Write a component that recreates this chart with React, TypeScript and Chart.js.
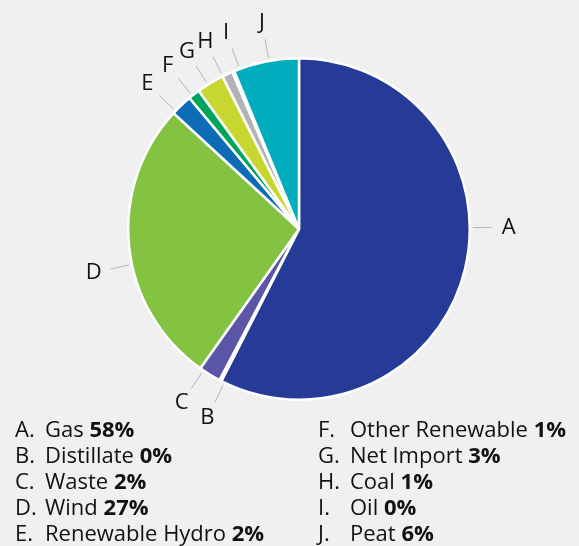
import React, { useEffect, useRef } from "react";
import { Chart, registerables } from "chart.js";

Chart.register(...registerables);

const letters = ["A", "B", "C", "D", "E", "F", "G", "H", "I", "J"];
const names = ["Gas", "Distillate", "Waste", "Wind", "Renewable Hydro", "Other Renewable", "Net Import", "Coal", "Oil", "Peat"];
const values = [57.6, 0.2, 2.1, 27.1, 2.05, 1.1, 2.6, 1.0, 0.2, 6.2];
const pctLabels = ["58%", "0%", "2%", "27%", "2%", "1%", "3%", "1%", "0%", "6%"];
const colors = ["#253b97", "#ffffff", "#5b57a6", "#84c341", "#0c6cb5", "#00a55b", "#c8d72f", "#b1b3b5", "#ffffff", "#00adbd"];
// label angle nudges (degrees) to avoid overlaps
const labelNudge = [-14, -1.5, 2.5, -6, -2.7, -0.8, -1, -1.7, 2.3, 1];

const FONT = "'Open Sans', 'Noto Sans', sans-serif";
const BG = "#f0f0f0";

const labelPlugin = {
  id: "outerLabels",
  afterDatasetsDraw(chart: any) {
    const ctx = chart.ctx;
    const meta = chart.getDatasetMeta(0);
    ctx.save();
    meta.data.forEach((arc: any, i: number) => {
      const { x, y, startAngle, endAngle, outerRadius } = arc.getProps(
        ["x", "y", "startAngle", "endAngle", "outerRadius"],
        true
      );
      const mid = (startAngle + endAngle) / 2 + (labelNudge[i] * Math.PI) / 180;
      const c = Math.cos(mid);
      const s = Math.sin(mid);
      const r1 = outerRadius + 3;
      const r2 = outerRadius + 22;
      const r3 = outerRadius + 39;
      ctx.strokeStyle = "#b5b5b5";
      ctx.lineWidth = 1;
      ctx.beginPath();
      ctx.moveTo(x + c * r1, y + s * r1);
      ctx.lineTo(x + c * r2, y + s * r2);
      ctx.stroke();
      ctx.fillStyle = "#111111";
      ctx.font = `22px ${FONT}`;
      ctx.textAlign = "center";
      ctx.textBaseline = "middle";
      ctx.fillText(letters[i], x + c * r3, y + s * r3);
    });
    ctx.restore();
  },
};

function Legend() {
  const rowH = 26;
  const items = letters.map((l, i) => {
    const col = i < 5 ? 0 : 1;
    const row = i % 5;
    const left = col === 0 ? 15 : 318;
    const letterW = col === 0 ? 30 : 32;
    return (
      <div
        key={l}
        style={{
          position: "absolute",
          left,
          top: 415 + row * rowH,
          height: rowH,
          lineHeight: rowH + "px",
          whiteSpace: "nowrap",
          fontFamily: FONT,
          fontSize: "22px",
          color: "#111",
          display: "flex",
        }}
      >
        <span style={{ display: "inline-block", width: letterW }}>{l}.</span>
        <span>
          {names[i]} <b style={{ fontWeight: 700 }}>{pctLabels[i]}</b>
        </span>
      </div>
    );
  });
  return <>{items}</>;
}

export default function App() {
  const ref = useRef<HTMLCanvasElement>(null);
  useEffect(() => {
    if (!ref.current) return;
    const chart = new Chart(ref.current, {
      type: "pie",
      data: {
        labels: names,
        datasets: [
          {
            data: values,
            backgroundColor: colors,
            borderColor: "#ffffff",
            borderWidth: 2.5,
          },
        ],
      },
      options: {
        animation: false,
        responsive: false,
        maintainAspectRatio: false,
        layout: { padding: { left: 127, right: 108, top: 57, bottom: 145 } },
        plugins: {
          legend: { display: false },
          tooltip: { enabled: false },
        },
      },
      plugins: [labelPlugin],
    });
    return () => chart.destroy();
  }, []);
  return (
    <div
      style={{
        position: "fixed",
        left: 0,
        top: 0,
        width: 579,
        height: 546,
        background: BG,
        overflow: "hidden",
      }}
    >
      <canvas ref={ref} width={579} height={546} style={{ position: "absolute", left: 0, top: 0, width: 579, height: 546 }} />
      <Legend />
    </div>
  );
}
